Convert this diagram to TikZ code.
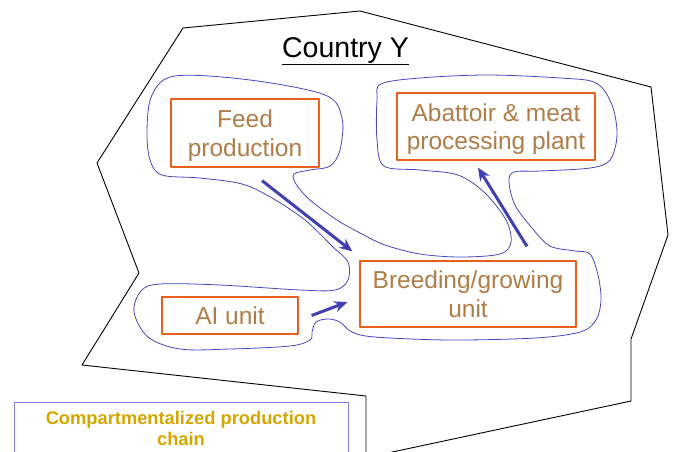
\documentclass[tikz,border=0pt]{standalone}
\usepackage{fontspec}
\setmainfont{Liberation Sans}
\usetikzlibrary{arrows.meta}

\definecolor{boxline}{RGB}{232,96,28}
\definecolor{boxtext}{RGB}{176,125,72}
\definecolor{flowblue}{RGB}{64,64,176}
\definecolor{blobblue}{RGB}{72,72,188}
\definecolor{legendline}{RGB}{128,128,212}
\definecolor{legendtext}{RGB}{214,166,0}

\begin{document}
\begin{tikzpicture}[x=1pt, y=-1pt,
                    >={Stealth[length=13pt,width=11pt]}, line join=round,
                    unit/.style={draw=boxline, line width=1.2pt, text=boxtext,
                                 align=center, inner sep=0pt, text depth=0pt,
                                 font=\fontsize{24.5}{28.5}\selectfont},
                    flow/.style={->, draw=flowblue, line width=3pt},
                    blob/.style={draw=blobblue, line width=0.8pt},
                    border/.style={draw=black, line width=0.9pt}
                   ]
\useasboundingbox (0,0) rectangle (676,451);
\clip (0,0) rectangle (676,451);

\draw [border] (366,470) -- (366,396) -- (82,365) -- (139,273) -- (97,163)
      -- (183,28) -- (360,11) -- (651,87) -- (668,235) -- (631,339)
      -- (631,401) -- (308,470);

\node [anchor=base, font=\fontsize{28.5}{32}\selectfont] (title) at (345.5,57)
      {\underline{Country Y}};

\draw [blob] plot [smooth cycle, tension=0.55] coordinates {
  (175,76) (250,80) (325,95) (342,118) (340,150) (330,166) (310,170)
  (294,174) (296,184) (310,200) (337,220) (362,234) (385,245) (420,254)
  (460,257) (500,254) (511,242) (506,220) (485,193) (458,175) (420,170)
  (384,166) (377,140) (377,100) (381,84) (420,78) (487,75) (560,78)
  (596,83) (612,105) (617,135) (610,160) (590,168) (540,171) (514,172)
  (509,182) (515,205) (532,228) (550,246) (575,251) (590,254) (598,275)
  (601,300) (596,320) (580,332) (535,338) (450,340) (375,337) (352,332)
  (340,322) (328,319) (316,322) (312,332) (310,340) (290,346) (230,349)
  (180,349) (148,337) (134,312) (141,291) (160,284) (220,285) (300,290)
  (335,290) (348,280) (348,262) (333,247) (305,220) (272,198) (242,184)
  (200,178) (162,175) (150,160) (147,130) (152,95)};

\node [unit, minimum width=148pt, minimum height=68pt] (feed) at (245,133)
      {Feed\\production};
\node [unit, minimum width=198pt, minimum height=67pt] (abattoir) at (496,126.5)
      {Abattoir \& meat\\processing plant};
\node [unit, minimum width=216pt, minimum height=66pt] (breeding) at (468,294)
      {Breeding/growing\\unit};
\node [unit, minimum width=136pt, minimum height=37pt] (ai) at (230,315.5)
      {AI unit};

\draw [flow] ([xshift=17pt,yshift=-13pt]feed.south)
      -- ([xshift=-7pt,yshift=9pt]breeding.north west);
\draw [flow] ([xshift=13pt]ai.east) -- ([xshift=-12pt,yshift=-8pt]breeding.west);
\draw [flow] ([xshift=59pt,yshift=14pt]breeding.north)
      -- ([xshift=-18pt,yshift=-7pt]abattoir.south);

\draw [draw=legendline, line width=0.9pt] (14,470) -- (14,402) -- (348,402) -- (348,470);
\node [text=legendtext, align=center, inner sep=0pt,
       font=\fontsize{18.3}{21}\selectfont\bfseries] (legend) at (181,428)
      {Compartmentalized production\\chain};
\end{tikzpicture}
\end{document}
